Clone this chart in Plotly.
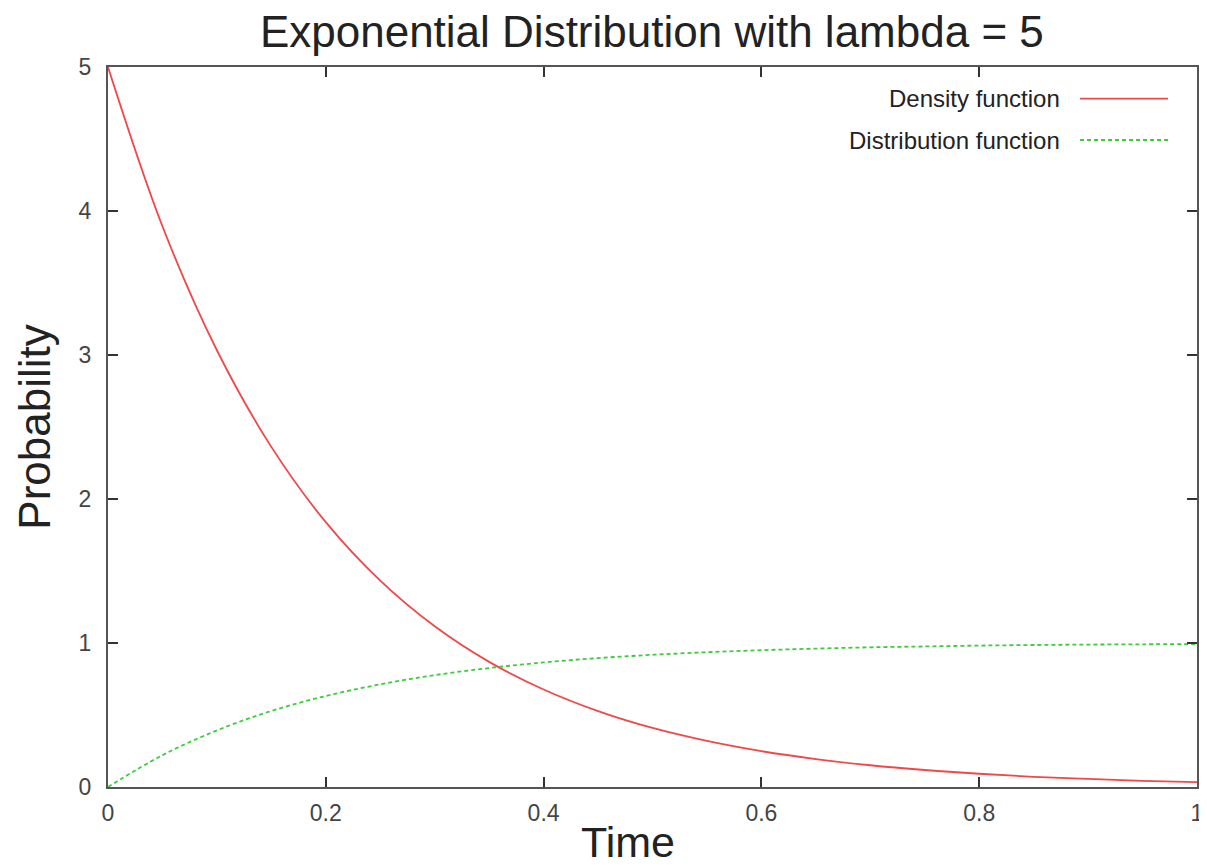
import plotly.graph_objects as go

# Values
time = [0.00, 0.05, 0.10, 0.15, 0.20, 0.25, 0.30, 0.35, 0.40, 0.45, 0.50,
        0.55, 0.60, 0.65, 0.70, 0.75, 0.80, 0.85, 0.90, 0.95, 1.00]
density = [5.000, 3.894, 3.033, 2.362, 1.839, 1.433, 1.116, 0.869, 0.677, 0.527, 0.410,
           0.320, 0.249, 0.194, 0.151, 0.118, 0.092, 0.071, 0.056, 0.043, 0.034]
distribution = [0.000, 0.221, 0.393, 0.528, 0.632, 0.713, 0.777, 0.826, 0.865, 0.895, 0.918,
                0.936, 0.950, 0.961, 0.970, 0.976, 0.982, 0.986, 0.989, 0.991, 0.993]
series_names = ["Density function", "Distribution function"]
x_ticks = [0, 0.2, 0.4, 0.6, 0.8, 1]
x_tick_labels = ["0", "0.2", "0.4", "0.6", "0.8", "1"]
y_ticks = [0, 1, 2, 3, 4, 5]
y_tick_labels = ["0", "1", "2", "3", "4", "5"]

RED = "#f04848"
GREEN = "#3ccc3c"
FONT = "Liberation Sans, Arial, sans-serif"

fig = go.Figure()
fig.add_trace(go.Scatter(x=time, y=density, mode="lines", name=series_names[0],
                         line=dict(color=RED, width=1.8, shape="spline"),
                         showlegend=False))
fig.add_trace(go.Scatter(x=time, y=distribution, mode="lines", name=series_names[1],
                         line=dict(color=GREEN, width=1.8, dash="4px,3px", shape="spline"),
                         showlegend=False))

axis_common = dict(
    showgrid=False, zeroline=False, automargin=False,
    showline=True, linecolor="#555555", linewidth=2, mirror="ticks",
    ticks="inside", ticklen=10, tickwidth=1.5, tickcolor="#333333",
    tickfont=dict(family=FONT, size=23, color="#444444"),
)

fig.update_xaxes(range=[0, 1], tickvals=x_ticks, ticktext=x_tick_labels,
                 ticklabelstandoff=4, **axis_common)
fig.update_yaxes(range=[0, 5], tickvals=y_ticks, ticktext=y_tick_labels,
                 title=dict(text="Probability", font=dict(family=FONT, size=44, color="#222222"),
                            standoff=14),
                 ticklabelstandoff=10, **axis_common)

# x-axis title (placed slightly left of centre as in the reference)
fig.add_annotation(x=0.4775, y=-0.077, xref="paper", yref="paper", text="Time",
                   showarrow=False, xanchor="center", yanchor="middle",
                   font=dict(family=FONT, size=43, color="#222222"))

# Legend in gnuplot style: text right-aligned, line sample to the right
legend_rows = [(0.956, RED, "solid"), (0.8986, GREEN, "4px,3px")]
for name, (yp, col, dash) in zip(series_names, legend_rows):
    fig.add_annotation(x=0.876, y=yp, xref="paper", yref="paper", text=name,
                       showarrow=False, xanchor="right", yanchor="middle",
                       font=dict(family=FONT, size=24, color="#222222"))
    fig.add_shape(type="line", xref="paper", yref="paper",
                  x0=0.8926, x1=0.9734, y0=yp, y1=yp,
                  line=dict(color=col, width=1.8, dash=dash))

# The page body adds an 8px offset, so the figure is sized to fill the window exactly
fig.update_layout(
    width=1199, height=858,
    margin=dict(l=100, r=10, t=59, b=79),
    paper_bgcolor="white", plot_bgcolor="white",
    title=dict(text="Exponential Distribution with lambda = 5",
               font=dict(family=FONT, size=44, color="#222222"),
               x=0.537, xanchor="center", y=0.972, yanchor="middle"),
)

fig.write_html("out.html")
